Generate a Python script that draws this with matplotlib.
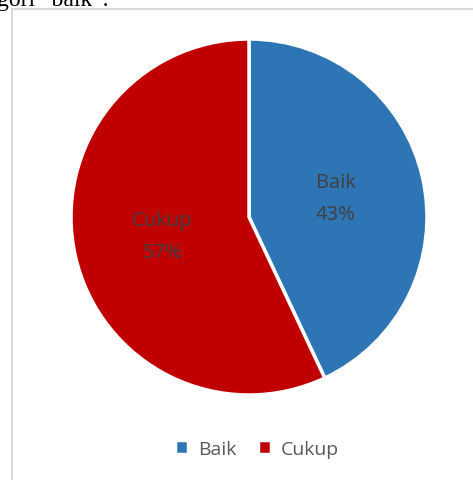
import matplotlib
matplotlib.use("Agg")
import matplotlib.pyplot as plt
from matplotlib.patches import Rectangle

categories = ["Baik", "Cukup"]
values = [43, 57]
colors = ["#2E75B6", "#C00000"]

W, H = 473, 481
fig = plt.figure(figsize=(W / 100, H / 100), dpi=100)
fig.patch.set_facecolor("white")

# cropped heading text at very top
fig.text(-3 / W, 1 - 6 / H, "gori \u201cbaik\u201d.", family="Liberation Serif",
         fontsize=17, color="black", va="baseline", ha="left")

# chart border (extends beyond right/bottom)
fig.patches.append(Rectangle((12 / W, -0.1), 1.2, 1 - 10 / H + 0.1,
                             transform=fig.transFigure, fill=False,
                             edgecolor="#D9D9D9", linewidth=1.5))

ax = fig.add_axes([71 / W, 1 - 396 / H, 356 / W, 356 / H])

lab_iter = iter(categories)


def fmt(p):
    return f"{next(lab_iter)}\n{p:.0f}%"


wedges, texts, autotexts = ax.pie(
    values, colors=colors, startangle=90, counterclock=False, radius=1,
    autopct=fmt, pctdistance=0.5,
    wedgeprops=dict(edgecolor="white", linewidth=2.5),
    textprops=dict(color="#404040", fontsize=14.5, family="Open Sans",
                   linespacing=1.8),
)
for t in autotexts:
    t.set_ha("center")
    t.set_va("center")

ax.set_xlim(-1, 1)
ax.set_ylim(-1, 1)
ax.set_aspect("equal")
ax.axis("off")

fig.legend(wedges, categories, loc="center", bbox_to_anchor=(257 / W, 1 - 450 / H),
           ncol=2, frameon=False, handlelength=0.7, handleheight=0.7,
           handletextpad=0.5, columnspacing=1.1,
           prop=dict(family="Open Sans", size=14), labelcolor="#595959")

fig.savefig("out.png", dpi=100)
